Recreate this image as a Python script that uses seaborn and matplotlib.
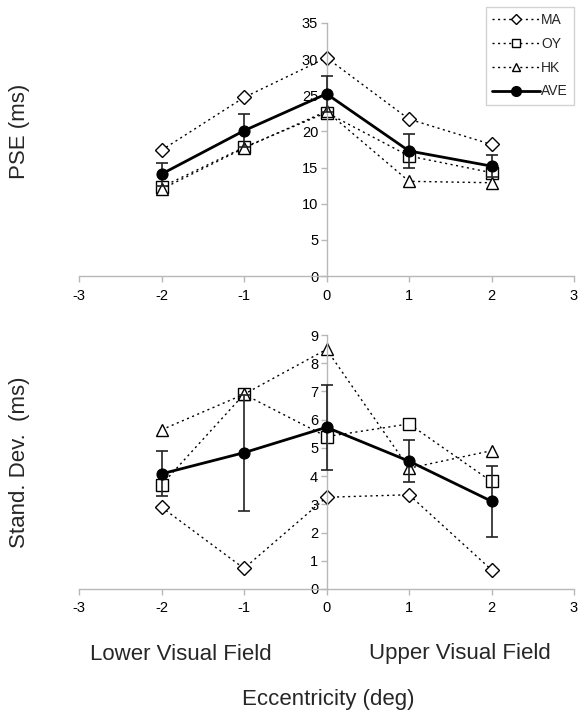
import matplotlib
matplotlib.use("Agg")
import matplotlib.pyplot as plt
import seaborn as sns
from matplotlib.lines import Line2D

# eccentricity (deg)
ecc = [-2, -1, 0, 1, 2]

# PSE (ms)
pse_ma = [17.4, 24.7, 30.2, 21.7, 18.2]
pse_oy = [12.3, 17.8, 22.6, 16.6, 14.3]
pse_hk = [12.0, 17.7, 22.8, 13.1, 12.9]
pse_ave = [14.1, 20.1, 25.2, 17.3, 15.2]
pse_err = [1.6, 2.3, 2.5, 2.3, 1.5]

# standard deviation (ms)
sd_ma = [2.9, 0.73, 3.25, 3.34, 0.68]
sd_oy = [3.69, 6.9, 5.4, 5.85, 3.81]
sd_hk = [5.64, 6.9, 8.49, 4.28, 4.9]
sd_ave = [4.08, 4.83, 5.73, 4.53, 3.11]
sd_err = [0.8, 2.05, 1.5, 0.74, 1.26]

sns.set_style("white")
plt.rcParams['font.family'] = ['Liberation Sans', 'DejaVu Sans']
plt.rcParams['axes.unicode_minus'] = False

grey = '#b8b8b8'
dots = (0, (1.5, 2.5))

fig = plt.figure(figsize=(5.86, 7.19), dpi=100)
ax1 = fig.add_axes([79/586, 1-276/719, 495/586, 253/719])
ax2 = fig.add_axes([79/586, 1-589/719, 495/586, 254/719])


def draw(ax, ma, oy, hk, ave, err, ymax, step):
    sns.lineplot(x=ecc, y=ma, ax=ax, color='black', lw=1, ls=dots, marker='D',
                 ms=7.5, mfc='white', mec='black', mew=1)
    sns.lineplot(x=ecc, y=oy, ax=ax, color='black', lw=1, ls=dots, marker='s',
                 ms=8, mfc='white', mec='black', mew=1)
    sns.lineplot(x=ecc, y=hk, ax=ax, color='black', lw=1, ls=dots, marker='^',
                 ms=8.5, mfc='white', mec='black', mew=1)
    ax.errorbar(ecc, ave, yerr=err, fmt='none', ecolor='#222222', elinewidth=1.2,
                capsize=4.5, capthick=1.2, zorder=4)
    sns.lineplot(x=ecc, y=ave, ax=ax, color='black', lw=2, marker='o',
                 ms=8, mfc='black', mec='black', zorder=5)
    ax.set_xlim(-3, 3)
    ax.set_ylim(0, ymax)
    ax.set_xticks(range(-3, 4))
    ax.set_yticks(range(0, ymax + 1, step))
    ax.spines['left'].set_position(('data', 0))
    ax.spines['top'].set_visible(False)
    ax.spines['right'].set_visible(False)
    for s in ('left', 'bottom'):
        ax.spines[s].set_color(grey)
        ax.spines[s].set_linewidth(1)
    ax.tick_params(axis='both', direction='out', length=4, width=1, color=grey,
                   labelsize=10.5, labelcolor='black', pad=5, left=True, bottom=True)
    ax.tick_params(axis='y', pad=2)
    ax.patch.set_alpha(0)


draw(ax1, pse_ma, pse_oy, pse_hk, pse_ave, pse_err, 35, 5)
draw(ax2, sd_ma, sd_oy, sd_hk, sd_ave, sd_err, 9, 1)

handles = [
    Line2D([], [], color='black', lw=1, ls=dots, marker='D', ms=5, mfc='white', mec='black'),
    Line2D([], [], color='black', lw=1, ls=dots, marker='s', ms=6, mfc='white', mec='black'),
    Line2D([], [], color='black', lw=1, ls=dots, marker='^', ms=6, mfc='white', mec='black'),
    Line2D([], [], color='black', lw=2, marker='o', ms=7, mfc='black', mec='black'),
]
leg = fig.legend(handles, ['MA', 'OY', 'HK', 'AVE'], loc='upper right',
                 bbox_to_anchor=(574/586, 1-7/719), frameon=True, fancybox=False,
                 fontsize=10, handlelength=3.4, handletextpad=0.1,
                 labelspacing=0.7, borderpad=0.45, borderaxespad=0)
leg.get_frame().set_edgecolor('#c8c8c8')
leg.get_frame().set_linewidth(1)

fig.text(20/586, 1-131/719, 'PSE (ms)', rotation=90, ha='center', va='center', fontsize=16)
fig.text(20/586, 1-462/719, 'Stand. Dev.  (ms)', rotation=90, ha='center', va='center', fontsize=16)
fig.text(181/586, 1-654/719, 'Lower Visual Field', ha='center', va='center', fontsize=16)
fig.text(460/586, 1-654/719, 'Upper Visual Field', ha='center', va='center', fontsize=16)
fig.text(328/586, 1-699/719, 'Eccentricity (deg)', ha='center', va='center', fontsize=16)

fig.savefig('out.png', dpi=100)
